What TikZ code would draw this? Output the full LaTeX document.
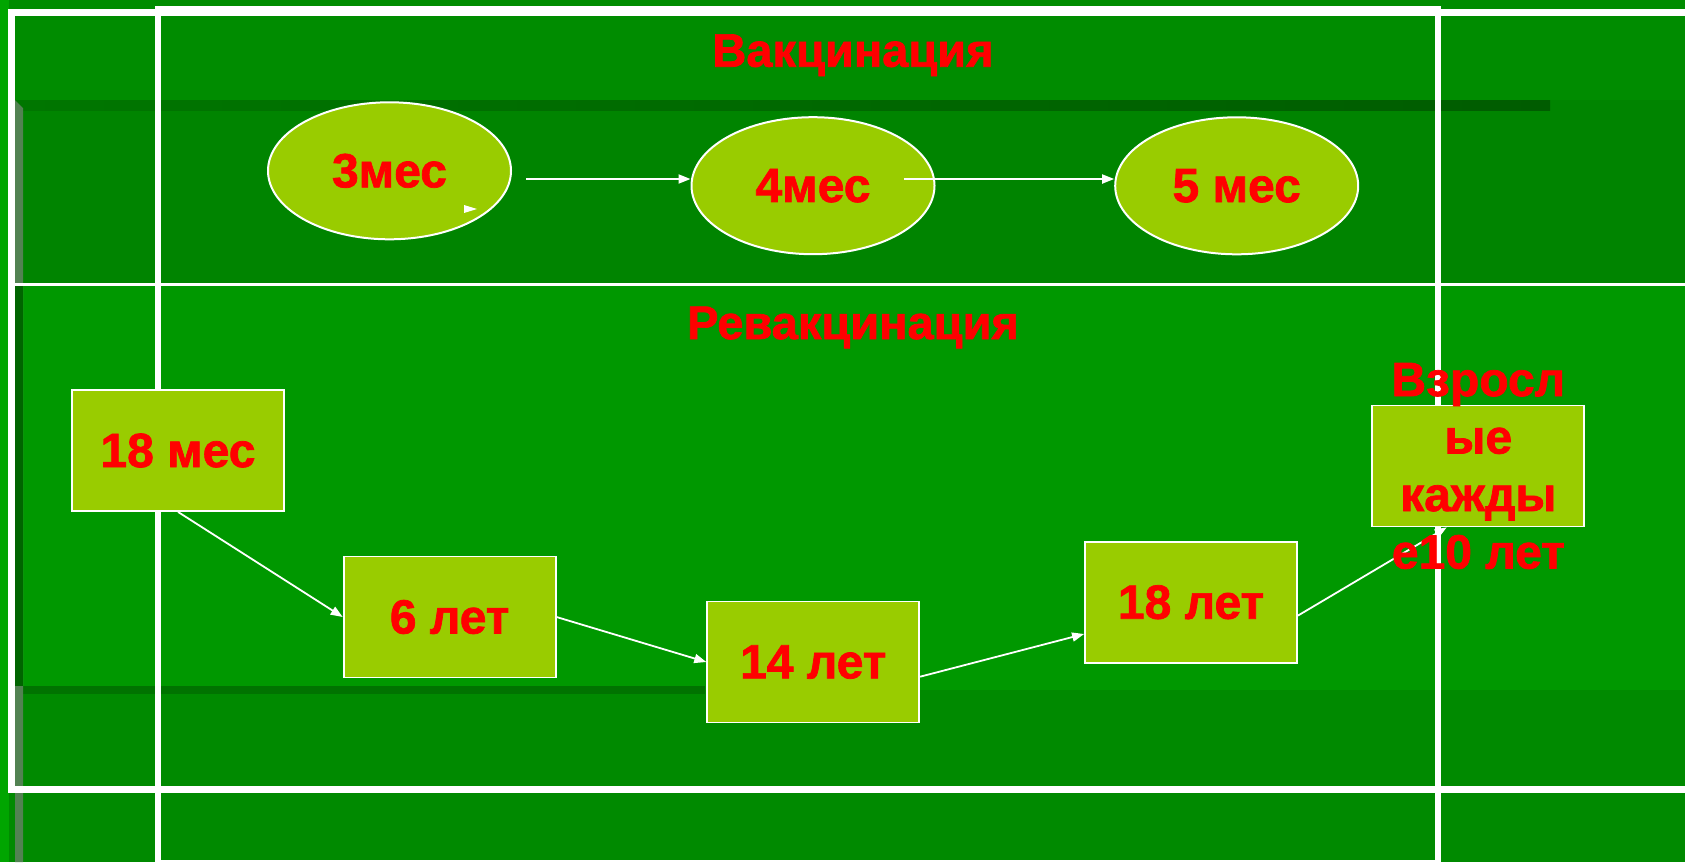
\documentclass[tikz,border=0pt]{standalone}
\usepackage{fontspec}
\setmainfont{Liberation Sans}
\newfontfamily\heavysans{Liberation Sans Bold}[FakeBold=1.5]
\usetikzlibrary{shapes.geometric,arrows.meta,calc}
\definecolor{bgtop}{RGB}{0,140,0}
\definecolor{bgmid}{RGB}{0,132,0}
\definecolor{bglow}{RGB}{0,152,0}
\definecolor{bgbot}{RGB}{0,138,0}
\definecolor{darkA}{RGB}{0,118,0}
\definecolor{darkB}{RGB}{0,92,0}
\definecolor{darkC}{RGB}{0,115,0}
\definecolor{brightL}{RGB}{0,165,0}
\definecolor{bevel}{RGB}{82,130,82}
\definecolor{bevelD}{RGB}{0,100,0}
\definecolor{nodefill}{RGB}{153,204,0}
\begin{document}
\begin{tikzpicture}[x=1pt,y=-1pt,
  lab/.style={text=red,font=\heavysans\fontsize{48}{57.5}\selectfont},
  ttl/.style={text=red,font=\heavysans\fontsize{47}{56}\selectfont},
  oval/.style={ellipse,draw=white,line width=2pt,fill=nodefill,minimum width=243pt,minimum height=137pt,inner sep=0pt,lab},
  boxnode/.style={rectangle,draw=white,line width=1.8pt,fill=nodefill,minimum width=212pt,minimum height=121pt,inner sep=0pt,lab},
  conn/.style={draw=white,line width=1.8pt,-{Triangle[length=12pt,width=9pt]}},
  frameline/.style={draw=white}
]
\useasboundingbox (0,0) rectangle (1685,862);
\clip (0,0) rectangle (1685,862);
% background bands
\fill[bgtop] (0,0) rectangle (1685,100);
\fill[bgmid] (0,100) rectangle (1685,285);
\fill[bglow] (0,285) rectangle (1685,690);
\fill[bgbot] (0,690) rectangle (1685,862);
\shade[left color=darkA,right color=darkB] (15,100) rectangle (1550,110);
\fill[darkC] (15,686) rectangle (705,694);
\fill[brightL] (0,0) rectangle (9,862);
\fill[bevel] (15,100) -- (23,108) -- (23,862) -- (15,862) -- cycle;
\fill[bevelD] (15,286) rectangle (23,686);
% white frames
\draw[frameline,line width=6.7pt] (11.7,12.2) rectangle (1720,789.5);
\draw[frameline,line width=6pt] (158,9) rectangle (1438,863);
\draw[frameline,line width=2.7pt] (15,284.7) -- (1685,284.7);
% titles
\node[ttl,anchor=base,inner sep=0pt] (t1) at (853,66.7) {Вакцинация};
\node[ttl,anchor=base,inner sep=0pt] (t2) at (853,339) {Ревакцинация};
% vaccination ovals
\node[oval] (e1) at (389.5,170.8) {3мес};
\node[oval] (e2) at (813,185.7) {4мес};
\node[oval] (e3) at (1236.7,185.8) {5 мес};
\fill[white] (464,205) -- (477,209) -- (464,213) -- cycle;
\coordinate (a1s) at (526,179);
\draw[conn] (a1s) -- ($(e2.west)+(0,-6.7)$);
\draw[conn] ($(e2.center)+(91,-6.7)$) -- ($(e3.west)+(0,-6.8)$);
% revaccination boxes
\node[boxnode] (r1) at (178,450.5) {18 мес};
\node[boxnode] (r2) at (449.6,617) {6 лет};
\node[boxnode] (r3) at (813.2,662) {14 лет};
\node[boxnode] (r4) at (1191,602.2) {18 лет};
\node[boxnode] (r5) at (1478.3,466) {};
\draw[conn] (r1.south) -- (r2.west);
\draw[conn] (r2.east) -- (r3.west);
\draw[conn] ($(r3.east)+(0,14.7)$) -- ($(r4.west)+(0,31.8)$);
\draw[conn] ($(r4.east)+(0,13.4)$) -- ($(r5.south)+(-31.6,0)$);
\node[lab,align=center,inner sep=0pt] (r5t) at (r5.center) {Взросл\\ые\\кажды\\е10 лет};
\end{tikzpicture}
\end{document}
